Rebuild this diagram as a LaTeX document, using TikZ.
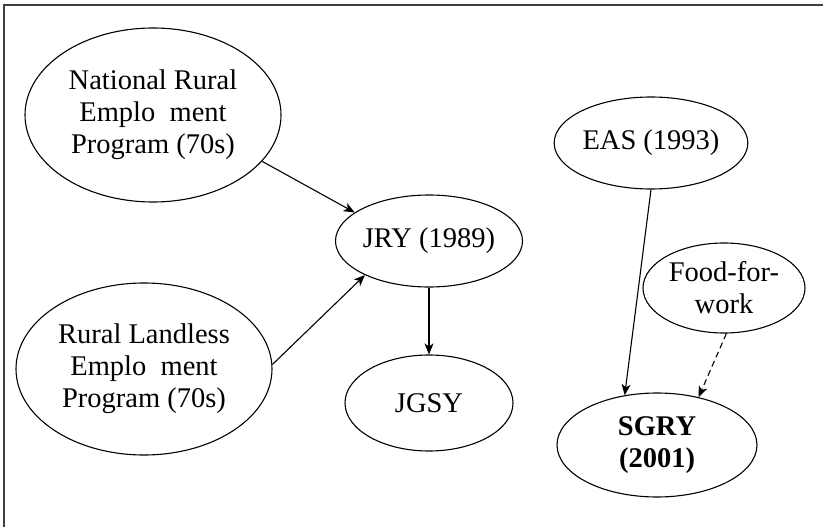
\documentclass[tikz,border=0pt]{standalone}
\usepackage{fontspec}
\setmainfont{Liberation Serif}
\usetikzlibrary{arrows.meta,shapes.geometric}
\begin{document}
\begin{tikzpicture}[x=1pt,y=-1pt,
  prog/.style={ellipse,draw,line width=1.1pt,inner sep=0pt,align=center,
    font=\fontsize{28.5}{32}\selectfont},
  arr/.style={line width=1.1pt,-{Stealth[length=11pt,width=9pt,inset=3pt]}},
  frameline/.style={line width=1.6pt,black!75}]
\useasboundingbox (0,0) rectangle (823,527);
\draw[frameline] (4,527) -- (4,5) -- (823,5);
\node[prog,minimum width=256pt,minimum height=174pt] (nre) at (153,115)
  {National Rural\\Emplo\hspace{0.5em}ment\\Program (70s)};
\node[prog,minimum width=256pt,minimum height=172pt] (rle) at (144,369)
  {Rural Landless\\Emplo\hspace{0.5em}ment\\Program (70s)};
\node[prog,minimum width=172pt,minimum height=92pt] (jry) at (429,241) {JRY (1989)};
\node[prog,minimum width=168pt,minimum height=96pt] (jgsy) at (429,403) {JGSY};
\node[prog,minimum width=176pt,minimum height=92pt] (eas) at (651,143) {EAS (1993)};
\node[prog,minimum width=162pt,minimum height=90pt] (ffw) at (724,288) {Food-for-\\work};
\node[prog,minimum width=200pt,minimum height=104pt] (sgry) at (657,445)
  {\textbf{SGRY}\\\textbf{(2001)}};
\draw[arr] (nre.-23) -- (jry.159);
\draw[arr] (rle.2) -- (jry.-152);
\draw[arr] (jry.south) -- (jgsy.north);
\draw[arr] (eas.-90) -- (sgry.123);
\draw[arr,dash pattern=on 6pt off 4pt] (ffw.-87) -- (sgry.49);
\end{tikzpicture}
\end{document}
